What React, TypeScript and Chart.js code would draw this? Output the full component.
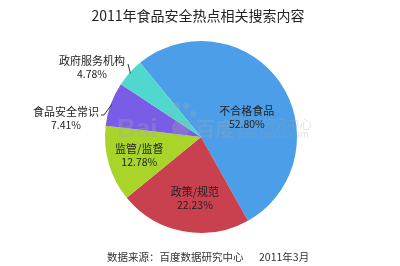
import React, { useEffect, useRef } from "react";
import { Chart, registerables } from "chart.js";

Chart.register(...registerables);

const title = "2011年食品安全热点相关搜索内容";
const footerSource = "数据来源：百度数据研究中心";
const footerDate = "2011年3月";
const categories = ["不合格食品", "政策/规范", "监管/监督", "食品安全常识", "政府服务机构"];
const values = [52.8, 22.23, 12.78, 7.41, 4.78];
const valueLabels = ["52.80%", "22.23%", "12.78%", "7.41%", "4.78%"];
const colors = ["#4b9ee7", "#c9404f", "#a9d52b", "#7a5de6", "#50d8cf"];

const CJK = '"Noto Sans CJK SC", "Noto Sans", sans-serif';

const labelPlugin = {
  id: "customLabels",
  afterDraw(chart: any) {
    const ctx = chart.ctx as CanvasRenderingContext2D;
    const meta = chart.getDatasetMeta(0);
    ctx.save();
    // watermark
    ctx.globalAlpha = 0.3;
    ctx.fillStyle = "#a0a8b0";
    ctx.textBaseline = "alphabetic";
    ctx.textAlign = "left";
    ctx.font = "bold 26px Arial, sans-serif";
    ctx.fillText("Bai", 117, 137);
    ctx.beginPath();
    ctx.arc(181, 128, 9, 0, Math.PI * 2);
    ctx.fill();
    const dots = [[170, 114], [177, 106], [186, 106], [193, 114]];
    for (const d of dots) {
      ctx.beginPath();
      ctx.arc(d[0], d[1], 3.2, 0, Math.PI * 2);
      ctx.fill();
    }
    ctx.font = "bold 20px " + CJK;
    ctx.fillText("百度", 195, 137);
    ctx.textBaseline = "middle";
    ctx.font = "12.5px " + CJK;
    ctx.fillText("数据研究中心", 237, 124);
    ctx.font = "10.5px Arial, sans-serif";
    ctx.fillText("data.baidu.com", 237, 135);
    ctx.globalAlpha = 1;

    // title
    ctx.fillStyle = "#222";
    ctx.textAlign = "center";
    ctx.font = "14px " + CJK;
    ctx.fillText(title, 198, 16);

    // footer
    ctx.textAlign = "left";
    ctx.font = "10.5px " + CJK;
    ctx.fillStyle = "#333";
    ctx.fillText(footerSource, 107, 257);
    ctx.fillText(footerDate, 259, 257);

    // inside labels
    const inside = [
      { r: 0.52, da: 11 },
      { r: 0.64, da: -5 },
      { r: 0.67, da: 0 },
    ];
    for (let i = 0; i < 3; i++) {
      const arc = meta.data[i];
      const mid = (arc.startAngle + arc.endAngle) / 2 + (inside[i].da * Math.PI) / 180;
      const rr = arc.outerRadius * inside[i].r;
      const x = arc.x + Math.cos(mid) * rr;
      const y = arc.y + Math.sin(mid) * rr;
      ctx.textAlign = "center";
      ctx.fillStyle = "#222";
      ctx.font = "11px " + CJK;
      ctx.fillText(categories[i], x, y - 6);
      ctx.font = "10.5px " + CJK;
      ctx.fillText(valueLabels[i], x, y + 7);
    }

    // outside labels with leader lines
    const outside = [
      { i: 3, lx: 66, ly: 112, line: [[101, 115], [104, 115]] },
      { i: 4, lx: 92, ly: 61, line: [[128, 64]] },
    ];
    ctx.strokeStyle = "#333";
    ctx.lineWidth = 1;
    for (const o of outside) {
      const arc = meta.data[o.i];
      const mid = (arc.startAngle + arc.endAngle) / 2;
      const ex = arc.x + Math.cos(mid) * (arc.outerRadius - 1);
      const ey = arc.y + Math.sin(mid) * (arc.outerRadius - 1);
      ctx.beginPath();
      ctx.moveTo(o.line[0][0], o.line[0][1]);
      for (let k = 1; k < o.line.length; k++) ctx.lineTo(o.line[k][0], o.line[k][1]);
      ctx.lineTo(ex, ey);
      ctx.stroke();
      ctx.textAlign = "center";
      ctx.fillStyle = "#222";
      ctx.font = "11px " + CJK;
      ctx.fillText(categories[o.i], o.lx, o.ly);
      ctx.font = "10.5px " + CJK;
      ctx.fillText(valueLabels[o.i], o.lx, o.ly + 13);
    }
    ctx.restore();
  },
};

export default function App() {
  const ref = useRef<HTMLCanvasElement>(null);
  useEffect(() => {
    document.body.style.margin = "0";
    const chart = new Chart(ref.current!, {
      type: "pie",
      data: {
        labels: categories,
        datasets: [
          {
            data: values,
            backgroundColor: colors,
            borderWidth: 0,
          },
        ],
      },
      options: {
        responsive: false,
        animation: false,
        rotation: -39.4,
        layout: { padding: { top: 41, bottom: 33, left: 105, right: 103 } },
        plugins: {
          legend: { display: false },
          tooltip: { enabled: false },
          title: { display: false },
        },
      },
      plugins: [labelPlugin],
    });
    return () => chart.destroy();
  }, []);
  return (
    <div style={{ width: 400, height: 266, background: "#fff" }}>
      <canvas ref={ref} width={400} height={266} />
    </div>
  );
}
